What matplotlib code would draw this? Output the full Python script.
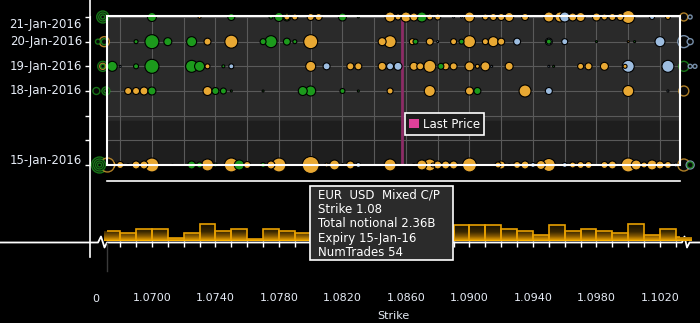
import matplotlib
matplotlib.use("Agg")
import matplotlib.pyplot as plt
import matplotlib.dates as mdates
import numpy as np
from datetime import date
from matplotlib.patches import Rectangle, Patch
from matplotlib.colors import LinearSegmentedColormap, to_rgba

# expiries (y axis)
exp15 = date(2016, 1, 15)
exp18 = date(2016, 1, 18)
exp19 = date(2016, 1, 19)
exp20 = date(2016, 1, 20)
exp21 = date(2016, 1, 21)

# trade type: C = call (green), M = mixed C/P (orange), P = put (blue)
# notional in USD millions

k21 = [1.0700, 1.0730, 1.0750, 1.0775, 1.0780, 1.0785, 1.0785, 1.0790, 1.0800, 1.0805,
       1.0820, 1.0830, 1.0850, 1.0855, 1.0860, 1.0865, 1.0870, 1.0875, 1.0880, 1.0890,
       1.0895, 1.0900, 1.0910, 1.0915, 1.0920, 1.0925, 1.0935, 1.0950, 1.0957, 1.0960,
       1.0965, 1.0970, 1.0980, 1.0985, 1.0990, 1.0995, 1.1000, 1.1015, 1.1025]
t21 = ['C', 'M', 'C', 'C', 'C', 'C', 'M', 'M', 'M', 'M',
       'C', 'C', 'M', 'M', 'M', 'M', 'C', 'M', 'M', 'P',
       'P', 'M', 'M', 'M', 'M', 'M', 'M', 'M', 'M', 'P',
       'M', 'M', 'M', 'M', 'M', 'M', 'M', 'P', 'M']
n21 = [202, 22, 122, 40, 202, 160, 90, 90, 122, 122,
       160, 10, 250, 90, 250, 160, 250, 90, 90, 10,
       10, 250, 90, 122, 122, 202, 122, 250, 250, 250,
       160, 202, 160, 90, 122, 122, 422, 62, 62]

k20 = [1.0690, 1.0700, 1.0710, 1.0725, 1.0735, 1.0750, 1.0770, 1.0775, 1.0785, 1.0790,
       1.0800, 1.0845, 1.0850, 1.0864, 1.0866, 1.0875, 1.0880, 1.0890, 1.0895, 1.0900,
       1.0910, 1.0915, 1.0920, 1.0930, 1.0950, 1.0950, 1.0960, 1.0980, 1.1000, 1.1004,
       1.1020]
t20 = ['C', 'C', 'C', 'C', 'M', 'M', 'C', 'C', 'C', 'C',
       'M', 'M', 'M', 'M', 'C', 'M', 'P', 'M', 'C', 'M',
       'M', 'M', 'M', 'P', 'P', 'C', 'P', 'C', 'M', 'C',
       'P']
n20 = [40, 490, 160, 250, 122, 422, 90, 360, 122, 40,
       490, 160, 360, 90, 62, 122, 10, 90, 62, 360,
       90, 250, 122, 122, 122, 62, 90, 10, 10, 10,
       250]

k19 = [1.0675, 1.0680, 1.0690, 1.0700, 1.0725, 1.0730, 1.0735, 1.0745, 1.0750, 1.0800,
       1.0810, 1.0825, 1.0830, 1.0845, 1.0850, 1.0855, 1.0865, 1.0869, 1.0875, 1.0882,
       1.0885, 1.0890, 1.0900, 1.0905, 1.0910, 1.0914, 1.0925, 1.0950, 1.0953, 1.0970,
       1.0975, 1.0985, 1.0998, 1.1000, 1.1025]
t19 = ['C', 'P', 'C', 'C', 'C', 'C', 'M', 'C', 'P', 'M',
       'P', 'M', 'M', 'M', 'P', 'P', 'M', 'M', 'M', 'C',
       'M', 'M', 'M', 'M', 'M', 'P', 'M', 'P', 'C', 'M',
       'M', 'M', 'M', 'P', 'P']
n19 = [250, 10, 62, 490, 360, 250, 62, 22, 62, 250,
       122, 122, 122, 160, 122, 160, 160, 122, 360, 90,
       122, 122, 202, 40, 202, 10, 160, 10, 10, 90,
       122, 160, 40, 360, 360]

k18 = [1.0685, 1.0690, 1.0695, 1.0700, 1.0735, 1.0740, 1.0745, 1.0750, 1.0770, 1.0795,
       1.0800, 1.0820, 1.0830, 1.0850, 1.0875, 1.0900, 1.0905, 1.0935, 1.0950, 1.1000,
       1.1025]
t18 = ['M', 'M', 'M', 'C', 'M', 'C', 'C', 'C', 'C', 'C',
       'C', 'C', 'C', 'M', 'M', 'M', 'C', 'M', 'P', 'M',
       'P']
n18 = [122, 122, 160, 160, 202, 122, 90, 10, 10, 202,
       250, 62, 10, 90, 302, 160, 122, 360, 122, 302,
       10]

k15 = [1.0675, 1.0680, 1.0685, 1.0690, 1.0695, 1.0700, 1.0713, 1.0725, 1.0730, 1.0735,
       1.0740, 1.0750, 1.0755, 1.0760, 1.0770, 1.0775, 1.0780, 1.0800, 1.0810, 1.0815,
       1.0820, 1.0825, 1.0830, 1.0850, 1.0865, 1.0870, 1.0875, 1.0877, 1.0880, 1.0885,
       1.0890, 1.0900, 1.0918, 1.0920, 1.0925, 1.0930, 1.0935, 1.0940, 1.0945, 1.0950,
       1.0960, 1.0965, 1.0970, 1.0975, 1.0985, 1.0990, 1.1000, 1.1005, 1.1010, 1.1015,
       1.1020, 1.1025, 1.1030]
t15 = ['M', 'M', 'M', 'M', 'M', 'M', 'P', 'C', 'C', 'M',
       'C', 'M', 'C', 'M', 'C', 'M', 'M', 'M', 'M', 'M',
       'C', 'M', 'P', 'M', 'M', 'M', 'M', 'M', 'M', 'M',
       'M', 'M', 'M', 'M', 'P', 'M', 'M', 'P', 'M', 'M',
       'P', 'M', 'M', 'M', 'M', 'M', 'M', 'M', 'M', 'M',
       'M', 'M', 'P']
n15 = [160, 122, 22, 160, 160, 490, 10, 160, 90, 360,
       40, 490, 250, 122, 62, 160, 490, 722, 40, 250,
       22, 160, 62, 360, 22, 250, 360, 40, 160, 160,
       160, 490, 90, 160, 22, 122, 160, 62, 202, 422,
       62, 90, 122, 122, 122, 160, 490, 250, 90, 250,
       160, 122, 40]

# strikes outside the shown range (drawn as rings at the edges)
out_exp = [exp21, exp21, exp21, exp20, exp20, exp20, exp19, exp19, exp19,
           exp18, exp18, exp18, exp15, exp15, exp15, exp15, exp15,
           exp21, exp21, exp20, exp20, exp19, exp19, exp19, exp18,
           exp15, exp15, exp15]
out_k = [1.0669, 1.0669, 1.0669, 1.0670, 1.0670, 1.0666, 1.0669, 1.0669, 1.0669,
         1.0665, 1.0671, 1.0671, 1.0667, 1.0667, 1.0667, 1.0667, 1.0672,
         1.1035, 1.1039, 1.1035, 1.1039, 1.1035, 1.1039, 1.1042, 1.1035,
         1.1035, 1.1039, 1.1039]
out_t = ['C', 'C', 'C', 'M', 'C', 'C', 'C', 'M', 'C',
         'C', 'C', 'C', 'C', 'C', 'C', 'C', 'M',
         'M', 'P', 'P', 'P', 'C', 'P', 'P', 'M',
         'M', 'P', 'C']
out_n = [360, 160, 40, 250, 90, 62, 250, 90, 40,
         122, 160, 40, 640, 360, 160, 40, 490,
         160, 40, 360, 90, 250, 40, 40, 250,
         360, 160, 90]

last_price = 1.08575

# histogram of notional by strike bucket (USD bn)
hist_left = [1.0670, 1.0680, 1.0690, 1.0700, 1.0710, 1.0720, 1.0730, 1.0740, 1.0750, 1.0760,
             1.0770, 1.0780, 1.0790, 1.0800, 1.0810, 1.0820, 1.0830, 1.0840, 1.0850, 1.0860,
             1.0870, 1.0880, 1.0890, 1.0900, 1.0910, 1.0920, 1.0930, 1.0940, 1.0950, 1.0960,
             1.0970, 1.0980, 1.0990, 1.1000, 1.1010, 1.1020, 1.1030]
hist_val = [2.1, 1.7, 2.5, 2.5, 0.7, 1.7, 3.5, 2.1, 2.5, 0.5,
            2.5, 2.1, 1.7, 2.4, 2.0, 2.8, 1.8, 2.2, 2.6, 1.6,
            2.4, 2.0, 3.2, 3.2, 3.2, 2.5, 2.1, 1.3, 3.2, 2.1,
            2.5, 2.1, 1.7, 3.5, 1.3, 2.5, 0.9]

tick_strikes = [1.0700, 1.0740, 1.0780, 1.0820, 1.0860, 1.0900, 1.0940, 1.0980, 1.1020]

tooltip = "EUR  USD  Mixed C/P\nStrike 1.08\nTotal notional 2.36B\nExpiry 15-Jan-16\nNumTrades 54"

type_colors = {'C': '#1c9a1c', 'M': '#e8a833', 'P': '#9dbde0'}
txt = '#e6ecf6'
W, H = 700, 323
xlo, xhi = 1.06717, 1.10326

fig = plt.figure(figsize=(7.0, 3.23), dpi=100, facecolor='black')

# pixel overlay for decorations
bg = fig.add_axes([0, 0, 1, 1], zorder=0)
bg.set_xlim(0, W)
bg.set_ylim(H, 0)
bg.axis('off')


def px_box(x0, y0, x1, y1):
    return [x0 / W, 1 - y1 / H, (x1 - x0) / W, (y1 - y0) / H]


# ---------------- bubble panel ----------------
ax = fig.add_axes(px_box(107, 16, 680, 165), zorder=2)
d15 = mdates.date2num(exp15)
ax.set_xlim(xlo, xhi)
ax.set_ylim(d15, d15 + 6.04)
ax.set_facecolor('#2a2a2a')
ax.axhspan(d15, d15 + 1.78, color='#1e1e1e', zorder=0)

ax.set_xticks(np.round(np.arange(1.068, 1.1031, 0.002), 4))
ax.set_yticks([d15 + i for i in range(7)])
ax.grid(True, color='#5a5a5a', lw=0.8, zorder=1)
ax.tick_params(axis='x', length=0, labelbottom=False)
ax.tick_params(axis='y', length=3.6, width=1, color='white', labelleft=False)
for s in ['top', 'right', 'bottom']:
    ax.spines[s].set_visible(False)
ax.spines['left'].set_position(('outward', 12.2))
ax.spines['left'].set_color('white')

ax.axvline(last_price, color='#8c2c66', lw=2, zorder=2)

rows = [(exp21, k21, t21, n21), (exp20, k20, t20, n20), (exp19, k19, t19, n19),
        (exp18, k18, t18, n18), (exp15, k15, t15, n15)]
for ex, ks, ts, ns in rows:
    order = np.argsort(-np.array(ns), kind='stable')
    xs = np.array(ks)[order]
    ss = np.array(ns)[order] * 0.207
    cs = [type_colors[ts[i]] for i in order]
    ys = np.full(len(xs), mdates.date2num(ex))
    ax.scatter(xs, ys, s=ss, c=cs, edgecolors='black', linewidths=0.8,
               zorder=3, clip_on=False)

# out of range strikes as rings
order = np.argsort(-np.array(out_n), kind='stable')
ax.scatter(np.array(out_k)[order], mdates.date2num(np.array(out_exp))[order],
           s=np.array(out_n)[order] * 0.207, facecolors='#070707',
           edgecolors=[to_rgba(type_colors[out_t[i]], 0.75) for i in order],
           linewidths=1.0, zorder=3, clip_on=False)

ax.add_patch(Rectangle((0, 0), 1, 1, transform=ax.transAxes, fill=False,
                       ec='white', lw=1.5, zorder=5, clip_on=False))

date_labels = [(exp21, '21-Jan-2016', -8), (exp20, '20-Jan-2016', 0), (exp19, '19-Jan-2016', 0),
               (exp18, '18-Jan-2016', 0), (exp15, '15-Jan-2016', 5)]
for ex, lbl, dy in date_labels:
    ax.annotate(lbl, xy=(0, mdates.date2num(ex)), xycoords=('axes fraction', 'data'),
                xytext=(-25, dy), textcoords='offset pixels', ha='right', va='center',
                color=txt, fontsize=8.5, annotation_clip=False)

leg = ax.legend(handles=[Patch(facecolor='#e0409a', label='Last Price')],
                loc='upper left', bbox_to_anchor=(0.509, 0.386), frameon=True,
                fancybox=False, framealpha=1, facecolor='#1c1c1c', edgecolor='white',
                handlelength=0.9, handleheight=0.9, handletextpad=0.3,
                borderpad=0.35, fontsize=8.5, labelcolor='white')
leg.get_frame().set_linewidth(1.2)
leg.set_zorder(6)

# ---------------- histogram ----------------
axh = fig.add_axes(px_box(107, 181, 680, 241), zorder=1)
axh.set_facecolor('none')
bars = axh.bar(hist_left, hist_val, width=0.001, align='edge', facecolor='none',
               edgecolor='#e8a000', lw=1.2, zorder=3)
cmap = LinearSegmentedColormap.from_list('g', ['#f7ad00', '#8a5c00', '#3a2800', '#241900', '#1a1200'])
grad = np.linspace(0, 1, 64).reshape(-1, 1)
for b in bars:
    im = axh.imshow(grad, extent=(xlo - 0.002, xhi + 0.002, 0, 3.6), origin='lower',
                    aspect='auto', cmap=cmap, zorder=2)
    im.set_clip_path(b)
axh.axhline(0, color='#ffb400', lw=2, zorder=4)
axh.set_xlim(xlo, xhi)
axh.set_ylim(0, 12)
axh.set_xticks(hist_left[1:])
axh.tick_params(axis='x', direction='out', length=4, width=1, color='white',
                labelbottom=False, pad=0)
axh.set_yticks([])
for s in ['left', 'right', 'bottom']:
    axh.spines[s].set_visible(False)
axh.spines['top'].set_color('white')
axh.spines['top'].set_linewidth(1.2)

# ---------------- strike axis labels ----------------
axs = fig.add_axes(px_box(107, 289, 680, 290), zorder=1)
axs.set_facecolor('none')
axs.set_xlim(xlo, xhi)
axs.set_xticks(tick_strikes)
axs.set_xticklabels([f'{k:.4f}' for k in tick_strikes])
axs.set_yticks([])
for s in axs.spines.values():
    s.set_visible(False)
axs.tick_params(axis='x', length=0, pad=2, labelsize=8, labelcolor=txt)
axs.set_xlabel('Strike', color=txt, fontsize=8, labelpad=6)

# ---------------- decorations ----------------
bg.plot([90, 90], [0, 257], color='white', lw=1.2)
bg.plot([0, 98, 101, 104.5, 107, 682, 684.5, 687, 689.5, 700],
        [242.5, 242.5, 236.5, 247.5, 242.5, 242.5, 236.5, 247.5, 242.5, 242.5],
        color='white', lw=1.3)
bg.plot([107, 107], [243, 271], color='#3a3a3a', lw=1)
bg.text(96, 299, '0', color=txt, fontsize=8, ha='center', va='center')

# tooltip
tip = fig.add_axes([0, 0, 1, 1], zorder=7)
tip.set_xlim(0, W)
tip.set_ylim(H, 0)
tip.axis('off')
tip.add_patch(Rectangle((310, 186), 143, 74, facecolor='#2b2b2b', edgecolor='white', lw=1.2))
tip.text(318, 189, tooltip, color='white', fontsize=8.5, ha='left', va='top', linespacing=1.12)

fig.savefig('out.png', dpi=100, facecolor='black')
